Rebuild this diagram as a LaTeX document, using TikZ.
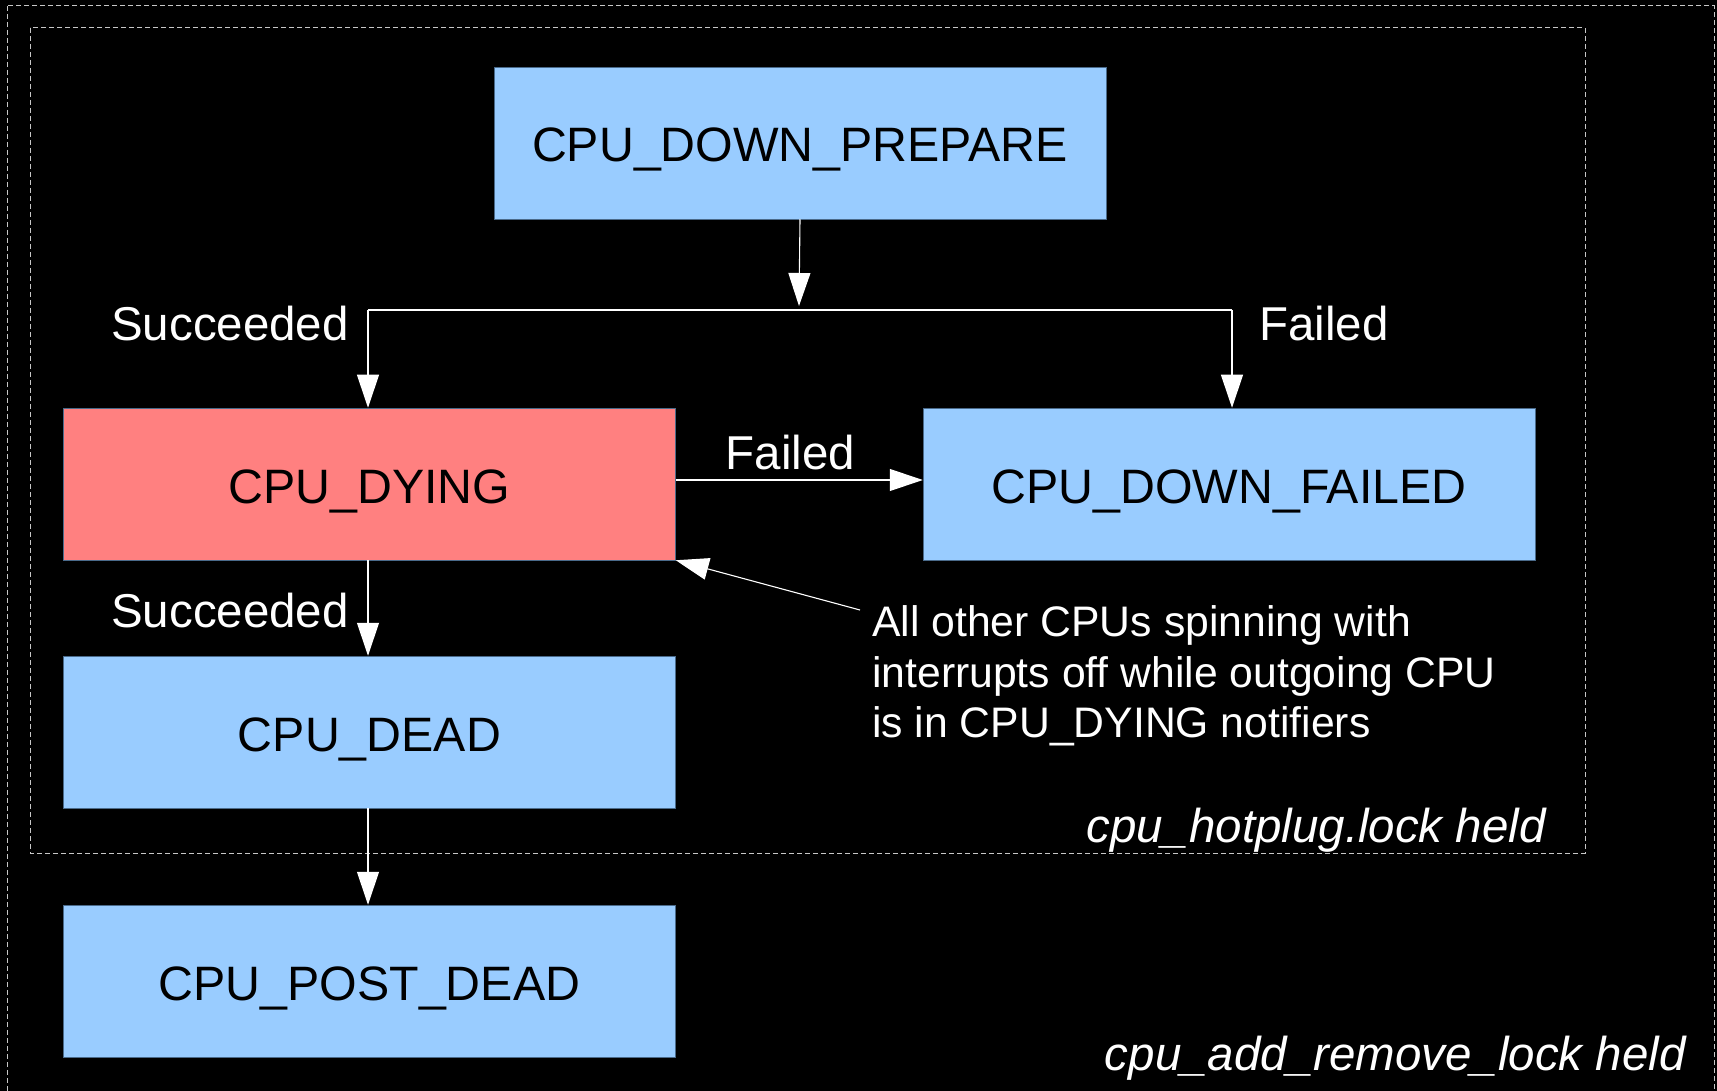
\documentclass[tikz,border=0pt]{standalone}
\usepackage{fontspec}
\setmainfont{Liberation Sans}
\usetikzlibrary{arrows.meta}
\definecolor{boxblue}{HTML}{99CCFF}
\definecolor{boxred}{HTML}{FF8080}
\definecolor{boxedge}{HTML}{4A6A8A}
\tikzset{
  statebox/.style={draw=boxedge, line width=0.5pt, minimum width=612pt, minimum height=152pt,
    inner sep=0pt, text height=38pt, text depth=0pt, font=\fontsize{48.3}{50}\selectfont, text=black},
  lbl/.style={text=white, font=\fontsize{47.5}{50}\selectfont, inner sep=0pt},
  conn/.style={draw=white, line width=1.1pt},
  arr/.style={conn, -{Triangle[width=22pt,length=33pt,fill=white]}},
  frame/.style={draw=white!78!black, line width=1pt, dash pattern=on 5pt off 3pt},
}
\begin{document}
\begin{tikzpicture}[x=1pt,y=-1pt]
\fill[black] (0,0) rectangle (1717,1091);
\useasboundingbox (0,0) rectangle (1717,1091);
\begin{scope}
\clip (0,0) rectangle (1717,1091);
\draw[frame] (7,6) rectangle (1714,1110);
\end{scope}
\draw[frame] (30,28) rectangle (1585,853);

\node[statebox, fill=boxblue] (prep) at (800,143) {CPU\_DOWN\_PREPARE};
\node[statebox, fill=boxred] (dying) at (369.5,484) {CPU\_DYING};
\node[statebox, fill=boxblue] (dfail) at (1229,484) {CPU\_DOWN\_FAILED};
\node[statebox, fill=boxblue] (dead) at (369.5,732) {CPU\_DEAD};
\node[statebox, fill=boxblue] (post) at (369.5,981) {CPU\_POST\_DEAD};

\coordinate (jtip) at (799,306);
\coordinate (cl) at (368,310);
\coordinate (cr) at (1232,310);
\draw[arr] (prep.south) -- (jtip);
\draw[conn] (cl) -- (cr);
\draw[arr] (cl) -- (cl |- dying.north);
\draw[arr] (cr) -- (cr |- dfail.north);
\draw[arr] ([yshift=4pt]dying.east) -- ([yshift=4pt]dfail.west);
\draw[arr] (dying.south -| cl) -- (dead.north -| cl);
\draw[arr] (dead.south -| cl) -- (post.north -| cl);

\node[lbl, anchor=base] (s1) at (230,341) {Succeeded};
\node[lbl, anchor=base] (f1) at (1324,341) {Failed};
\node[lbl, anchor=base] (f2) at (790.5,469) {Failed};
\node[lbl, anchor=base] (s2) at (230,627) {Succeeded};

\node[anchor=north west, align=left, text=white, inner sep=0pt,
  font=\fontsize{42.7}{50.5}\selectfont] (note) at (872,605.5)
  {All other CPUs spinning with\\interrupts off while outgoing CPU\\is in CPU\_DYING notifiers};
\coordinate (notept) at (860,610);
\draw[arr] (notept) -- (dying.south east);

\node[lbl, anchor=base east, font=\itshape\fontsize{47.5}{50}\selectfont] (hp) at (1546,842) {cpu\_hotplug.lock held};
\node[lbl, anchor=base east, font=\itshape\fontsize{47.5}{50}\selectfont] (ar) at (1686,1070) {cpu\_add\_remove\_lock held};
\end{tikzpicture}
\end{document}
